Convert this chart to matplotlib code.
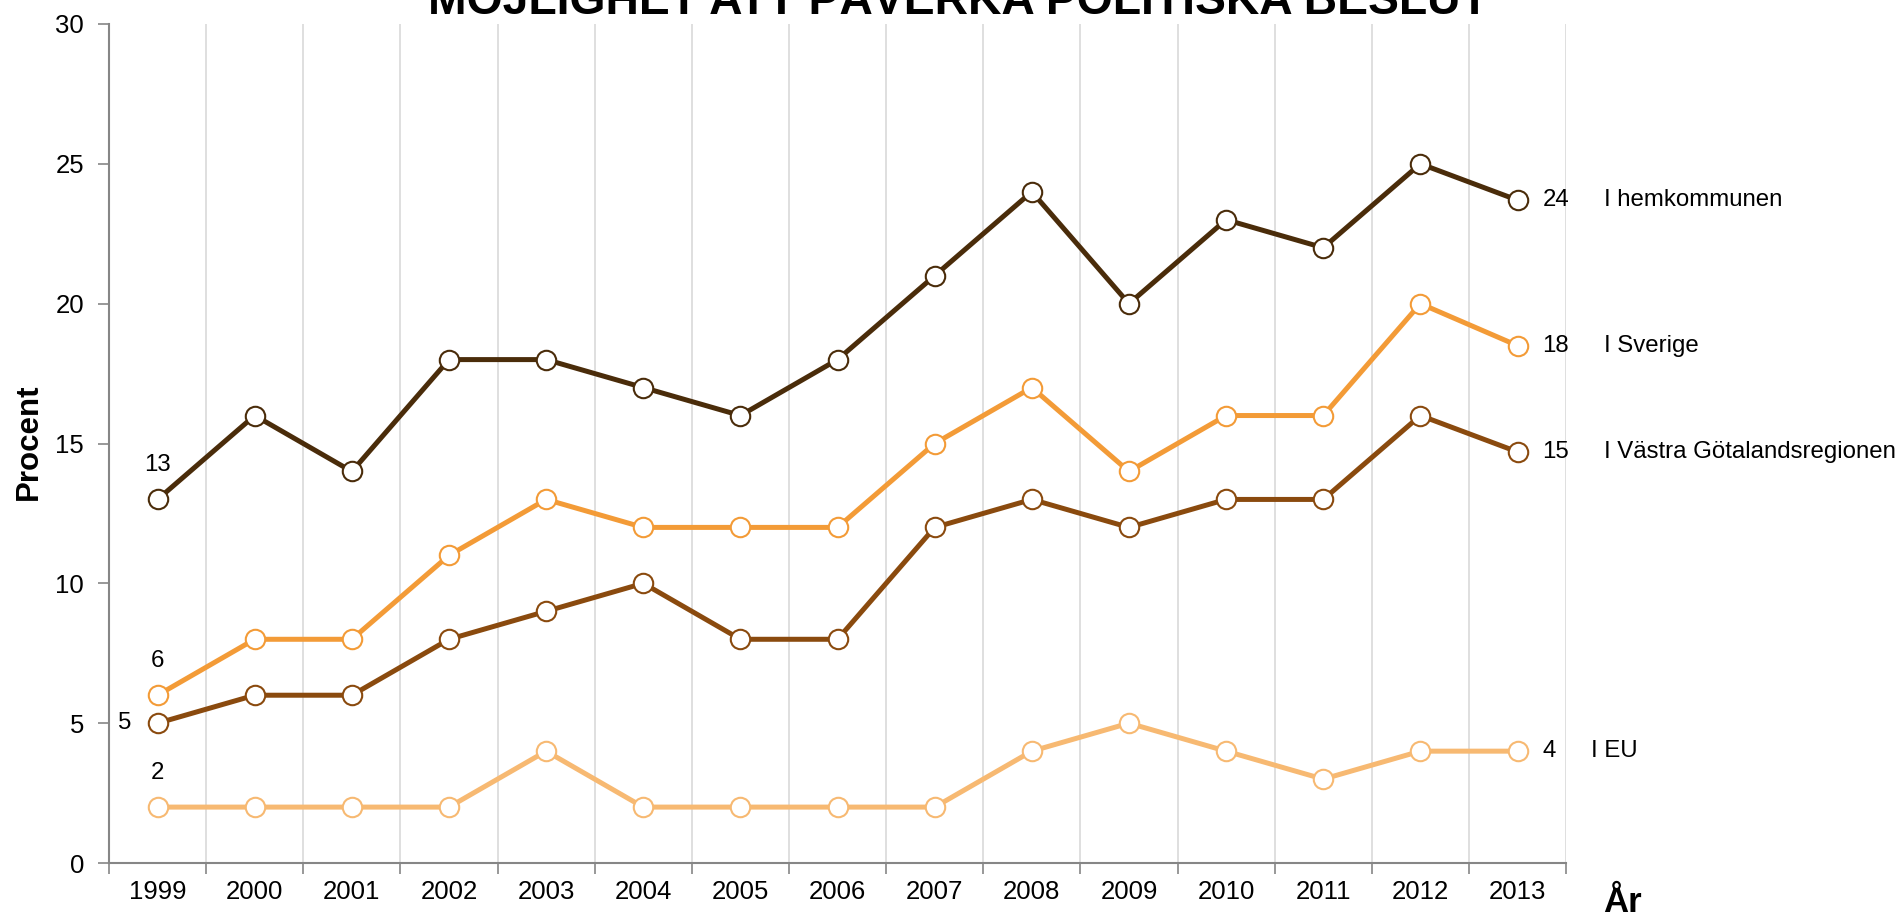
import matplotlib; matplotlib.use('Agg')
import numpy as np
import matplotlib.pyplot as plt
import matplotlib.ticker as ticker

plt.rcParams['font.family'] = ['Liberation Sans', 'DejaVu Sans']

TITLE = 'MÖJLIGHET ATT PÅVERKA POLITISKA BESLUT'
years = ['1999', '2000', '2001', '2002', '2003', '2004', '2005', '2006',
         '2007', '2008', '2009', '2010', '2011', '2012', '2013']

hemkommunen = [13, 16, 14, 18, 18, 17, 16, 18, 21, 24, 20, 23, 22, 25, 23.7]
sverige = [6, 8, 8, 11, 13, 12, 12, 12, 15, 17, 14, 16, 16, 20, 18.5]
vastra_gotaland = [5, 6, 6, 8, 9, 10, 8, 8, 12, 13, 12, 13, 13, 16, 14.7]
eu = [2, 2, 2, 2, 4, 2, 2, 2, 2, 4, 5, 4, 3, 4, 4]

series_names = ['I hemkommunen', 'I Sverige', 'I Västra Götalandsregionen', 'I EU']
end_labels = ['24', '18', '15', '4']
start_labels = ['13', '6', '5', '2']
colors = ['#4a2c0a', '#f39b37', '#8a4a0e', '#f7b972']


def draw_plot():
    fig = plt.figure(figsize=(18.99, 9.15), dpi=100)
    ax = fig.add_axes([0.0574, 0.0568, 0.7673, 0.917])
    x = np.arange(len(years))
    all_series = [hemkommunen, sverige, vastra_gotaland, eu]

    for i, vals in enumerate(all_series):
        ax.plot(x, vals, color=colors[i], lw=3.6, marker='o', ms=14,
                mfc='white', mec=colors[i], mew=1.5, zorder=3 + (3 - i) * 0.1,
                clip_on=False)
        # value at the end and series name
        ax.annotate(end_labels[i], (x[-1], vals[-1]), xytext=(25, 0),
                    textcoords='offset pixels', va='center', ha='left',
                    fontsize=17.3)
        name_off = 73 if series_names[i] == 'I EU' else 86
        ax.annotate(series_names[i], (x[-1], vals[-1]), xytext=(name_off, 0),
                    textcoords='offset pixels', va='center', ha='left',
                    fontsize=17.3, annotation_clip=False)
        # first value
        if start_labels[i] == '5':
            ax.annotate(start_labels[i], (x[0], vals[0]), xytext=(-26, 0),
                        textcoords='offset pixels', va='center', ha='right',
                        fontsize=17.3)
        else:
            ax.annotate(start_labels[i], (x[0], vals[0]), xytext=(0, 34),
                        textcoords='offset pixels', va='center', ha='center',
                        fontsize=17.3)

    ax.set_xlim(-0.5, len(years) - 0.5)
    ax.set_ylim(0, 30)
    ax.set_yticks([0, 5, 10, 15, 20, 25, 30])
    ax.xaxis.set_major_locator(ticker.FixedLocator(np.arange(len(years) + 1) - 0.5))
    ax.xaxis.set_major_formatter(ticker.NullFormatter())
    ax.xaxis.set_minor_locator(ticker.FixedLocator(x))
    ax.xaxis.set_minor_formatter(ticker.FixedFormatter(years))
    ax.tick_params(axis='x', which='minor', length=0, pad=12, labelsize=18.5)
    ax.tick_params(axis='x', which='major', length=8, width=1.2, color='#868686')
    ax.tick_params(axis='y', length=8, width=1.2, color='#868686', labelsize=18.5, pad=10)
    ax.grid(True, axis='x', which='major', color='#d9d9d9', lw=1.2)
    ax.set_axisbelow(True)
    for s in ['top', 'right']:
        ax.spines[s].set_visible(False)
    for s in ['left', 'bottom']:
        ax.spines[s].set_color('#868686')
        ax.spines[s].set_linewidth(1.5)

    fig.text(29 / 1899, 1 - 442 / 915, 'Procent', rotation=90, ha='center', va='center',
             fontsize=22.5, fontweight='bold')
    fig.text(1603 / 1899, 3 / 915, 'År', ha='left', va='baseline',
             fontsize=25, fontweight='bold')
    fig.text(958 / 1899, 1 - 14 / 915, TITLE, ha='center', va='baseline',
             fontsize=33.3, fontweight='bold',
             family=['Liberation Sans Narrow', 'Liberation Sans'])

    fig.savefig('out.png', dpi=100)


if __name__ == "__main__":
    draw_plot()
